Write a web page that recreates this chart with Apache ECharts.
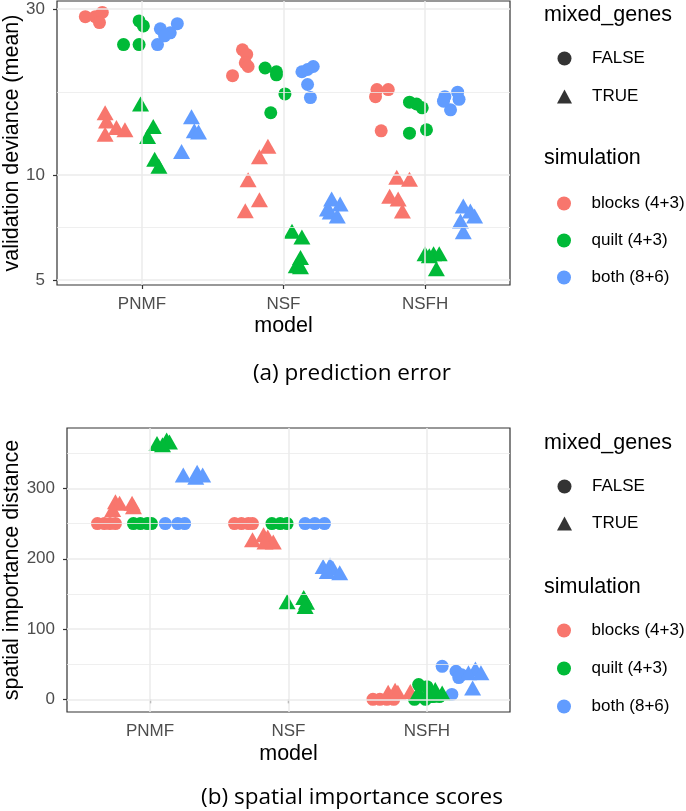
<!DOCTYPE html>
<html><head><meta charset="utf-8">
<script src="https://cdn.jsdelivr.net/npm/echarts@6/dist/echarts.min.js"></script>
<style>html,body{margin:0;padding:0;background:#fff}#c{width:686px;height:811px}</style>
</head><body><div id="c"></div><script>
const models = ['PNMF', 'NSF', 'NSFH'];
const simulations = ['blocks (4+3)', 'quilt (4+3)', 'both (8+6)'];
const simColors = ['#F8766D', '#00BA38', '#619CFF'];
const mixedLevels = ['FALSE', 'TRUE'];

const devTicks = [5, 10, 30];
const devMinor = [7.07, 17.32];
const spTicks = [0, 100, 200, 300];
const spMinor = [50, 150, 250, 350];

// (a) validation deviance: [model, jitter offset, value]
const devBlocksFalse = [['PNMF',-0.40,28.5],['PNMF',-0.33,28.5],['PNMF',-0.28,29.3],['PNMF',-0.30,27.4],
  ['NSF',-0.29,22.9],['NSF',-0.26,22.2],['NSF',-0.27,21.0],['NSF',-0.25,20.5],['NSF',-0.36,19.3],
  ['NSFH',-0.34,17.6],['NSFH',-0.26,17.6],['NSFH',-0.35,16.8],['NSFH',-0.31,13.4]];
const devQuiltFalse = [['PNMF',-0.02,27.7],['PNMF',0.01,26.8],['PNMF',-0.13,23.7],['PNMF',-0.02,23.7],
  ['NSF',-0.13,20.3],['NSF',-0.05,19.8],['NSF',-0.05,19.4],['NSF',0.01,17.1],['NSF',-0.09,15.1],
  ['NSFH',-0.11,16.2],['NSFH',-0.06,16.0],['NSFH',-0.02,15.6],['NSFH',-0.11,13.2],['NSFH',0.01,13.5]];
const devBothFalse = [['PNMF',0.13,26.3],['PNMF',0.25,27.2],['PNMF',0.20,25.6],['PNMF',0.11,23.7],['PNMF',0.16,25.1],
  ['NSF',0.13,19.8],['NSF',0.21,20.5],['NSF',0.17,18.2],['NSF',0.19,16.7],['NSF',0.17,20.1],
  ['NSFH',0.14,16.8],['NSFH',0.23,17.3],['NSFH',0.24,16.5],['NSFH',0.18,15.4],['NSFH',0.13,16.3]];
const devBlocksTrue = [['PNMF',-0.26,15.1],['PNMF',-0.25,14.3],['PNMF',-0.18,13.7],['PNMF',-0.12,13.5],['PNMF',-0.26,13.1],
  ['NSF',-0.11,12.1],['NSF',-0.17,11.3],['NSF',-0.25,9.7],['NSF',-0.17,8.5],['NSF',-0.27,7.9],
  ['NSFH',-0.20,9.87],['NSFH',-0.11,9.74],['NSFH',-0.25,8.7],['NSFH',-0.19,8.54],['NSFH',-0.16,7.89]];
const devQuiltTrue = [['PNMF',-0.01,16.0],['PNMF',0.08,13.8],['PNMF',0.04,12.9],['PNMF',0.09,11.1],['PNMF',0.12,10.6],
  ['NSF',0.06,6.9],['NSF',0.13,6.65],['NSF',0.12,5.8],['NSF',0.09,5.5],['NSF',0.12,5.46],
  ['NSFH',0.00,5.95],['NSFH',0.06,5.95],['NSFH',0.10,5.95],['NSFH',0.08,5.39],['NSFH',0.03,5.87]];
const devBothTrue = [['PNMF',0.35,14.7],['PNMF',0.37,13.4],['PNMF',0.40,13.3],['PNMF',0.28,11.7],
  ['NSF',0.34,8.54],['NSF',0.40,8.26],['NSF',0.33,7.84],['NSF',0.38,7.64],['NSF',0.31,8.0],
  ['NSFH',0.27,8.16],['NSFH',0.35,7.64],['NSFH',0.27,6.88],['NSFH',0.25,7.39],['NSFH',0.32,7.89]];

// (b) spatial importance distance: [model, jitter offset, value]
const spBlocksFalse = [['PNMF',-0.38,250],['PNMF',-0.33,250],['PNMF',-0.29,250],['PNMF',-0.25,250],
  ['NSF',-0.39,250],['NSF',-0.34,250],['NSF',-0.29,250],['NSF',-0.26,250],
  ['NSFH',-0.39,0],['NSFH',-0.34,0],['NSFH',-0.29,0],['NSFH',-0.24,0]];
const spQuiltFalse = [['PNMF',-0.12,250],['PNMF',-0.07,250],['PNMF',-0.02,250],['PNMF',0.01,250],
  ['NSF',-0.12,250],['NSF',-0.06,250],['NSF',-0.01,250],
  ['NSFH',-0.06,21],['NSFH',0.00,18],['NSFH',0.02,10],['NSFH',-0.01,0],['NSFH',-0.09,0],['NSFH',0.04,4],['NSFH',0.09,4]];
const spBothFalse = [['PNMF',0.11,250],['PNMF',0.20,250],['PNMF',0.25,250],
  ['NSF',0.12,250],['NSF',0.19,250],['NSF',0.26,250],
  ['NSFH',0.11,47],['NSFH',0.21,40],['NSFH',0.23,31],['NSFH',0.18,7],['NSFH',0.25,35]];
const spBlocksTrue = [['PNMF',-0.25,281],['PNMF',-0.22,279],['PNMF',-0.13,279],['PNMF',-0.27,270],['PNMF',-0.12,274],
  ['NSF',-0.26,227],['NSF',-0.18,234],['NSF',-0.15,231],['NSF',-0.11,224],['NSF',-0.17,224],
  ['NSFH',-0.28,10],['NSFH',-0.23,13],['NSFH',-0.21,10],['NSFH',-0.12,11]];
const spQuiltTrue = [['PNMF',0.05,364],['PNMF',0.12,369],['PNMF',0.14,366],['PNMF',0.09,362],
  ['NSF',-0.01,139],['NSF',0.11,145],['NSF',0.13,138],['NSF',0.12,132],
  ['NSFH',-0.06,11],['NSFH',0.06,14],['NSFH',0.11,9],['NSFH',0.01,6]];
const spBothTrue = [['PNMF',0.24,319],['PNMF',0.34,323],['PNMF',0.38,319],['PNMF',0.33,316],
  ['NSF',0.25,189],['NSF',0.30,191],['NSF',0.32,187],['NSF',0.37,180],['NSF',0.28,182],
  ['NSFH',0.35,43],['NSFH',0.30,38],['NSFH',0.39,38],['NSFH',0.33,16]];

const panels = [
  [[devBlocksFalse, devQuiltFalse, devBothFalse], [devBlocksTrue, devQuiltTrue, devBothTrue]],
  [[spBlocksFalse, spQuiltFalse, spBothFalse], [spBlocksTrue, spQuiltTrue, spBothTrue]]
];

const FONT = '"Liberation Sans", Arimo, Arial, Helvetica, sans-serif';
const CAPFONT = '"Open Sans", "Noto Sans", sans-serif';
const GRID_COLOR = '#EBEBEB';

function toPoints(arr) {
  return arr.map(p => [models.indexOf(p[0]) + 1 + p[1], p[2]]);
}

const series = [];
// gridlines
[[devTicks, devMinor], [spTicks, spMinor]].forEach((t, p) => {
  const lines = [];
  t[1].forEach(v => lines.push({ yAxis: v, lineStyle: { width: 0.8 } }));
  t[0].forEach(v => lines.push({ yAxis: v, lineStyle: { width: 1.5 } }));
  [1, 2, 3].forEach(v => lines.push({ xAxis: v, lineStyle: { width: 1.5 } }));
  series.push({
    type: 'scatter', xAxisIndex: p, yAxisIndex: p, data: [], z: 1, silent: true,
    markLine: { silent: true, symbol: ['none', 'none'], label: { show: false },
      animation: false,
      lineStyle: { color: GRID_COLOR, type: 'solid' }, data: lines }
  });
});
panels.forEach((panel, p) => {
  panel.forEach((row, m) => {
    row.forEach((arr, s) => {
      series.push({
        type: 'scatter', name: simulations[s], xAxisIndex: p, yAxisIndex: p,
        symbol: m ? 'triangle' : 'circle', symbolSize: m ? [17, 15] : 13,
        itemStyle: { color: simColors[s], opacity: 1 }, silent: true, z: 3,
        data: toPoints(arr)
      });
    });
  });
});
mixedLevels.forEach((lv, i) => {
  series.push({ type: 'scatter', name: lv, xAxisIndex: 0, yAxisIndex: 0, data: [],
    symbol: i ? 'triangle' : 'circle', itemStyle: { color: '#000' } });
});

function xAxisCfg(g) {
  return {
    gridIndex: g, type: 'value', min: 0.4, max: 3.6,
    axisLine: { show: false }, splitLine: { show: false },
    axisTick: { show: true, customValues: [1, 2, 3], length: 4, lineStyle: { color: '#333', width: 1.2 } },
    axisLabel: { customValues: [1, 2, 3], formatter: v => models[Math.round(v) - 1],
      color: '#4D4D4D', fontSize: 17, fontFamily: FONT, margin: 11 }
  };
}

const labelStyle = { color: '#000', fontSize: 17, fontFamily: FONT, padding: [0, 0, 0, 15] };
function legendCfg(top, gap, items) {
  return { orient: 'vertical', left: 552, top: top, itemWidth: 15, itemHeight: 14, itemGap: gap,
    selectedMode: false, textStyle: labelStyle, data: items };
}
const mixedItems = [{ name: 'FALSE', icon: 'circle' }, { name: 'TRUE', icon: 'triangle' }];
const simItems = simulations.map(s => ({ name: s, icon: 'circle' }));

function txt(text, x, y, font, align, rot) {
  const el = { type: 'text', x: x, y: y, silent: true,
    style: { text: text, font: font, fill: '#000', align: align || 'left', verticalAlign: 'middle' } };
  if (rot) el.rotation = rot;
  return el;
}
const TITLE = '21.5px ' + FONT;
const CAP = '22.5px ' + CAPFONT;

const option = {
  animation: false,
  backgroundColor: '#fff',
  grid: [
    { left: 57, top: 1, width: 453, height: 284, show: true, borderColor: '#333', borderWidth: 1.2, backgroundColor: '#fff' },
    { left: 67, top: 428, width: 443, height: 284, show: true, borderColor: '#333', borderWidth: 1.2, backgroundColor: '#fff' }
  ],
  xAxis: [xAxisCfg(0), xAxisCfg(1)],
  yAxis: [
    { gridIndex: 0, type: 'log', logBase: 10, min: 4.84, max: 31.6,
      axisLine: { show: false }, splitLine: { show: false }, minorSplitLine: { show: false },
      axisTick: { show: true, customValues: devTicks, length: 4, lineStyle: { color: '#333', width: 1.2 } },
      axisLabel: { customValues: devTicks, formatter: v => String(Math.round(v)), color: '#4D4D4D', fontSize: 17, fontFamily: FONT, margin: 12 } },
    { gridIndex: 1, type: 'value', min: -18, max: 386,
      axisLine: { show: false }, splitLine: { show: false },
      axisTick: { show: true, customValues: spTicks, length: 4, lineStyle: { color: '#333', width: 1.2 } },
      axisLabel: { customValues: spTicks, formatter: v => String(Math.round(v)), color: '#4D4D4D', fontSize: 17, fontFamily: FONT, margin: 12 } }
  ],
  legend: [
    legendCfg(45, 21, mixedItems),
    legendCfg(190, 20, simItems),
    legendCfg(473, 20, mixedItems),
    legendCfg(617, 21, simItems)
  ],
  graphic: [
    txt('mixed_genes', 544, 15, TITLE),
    txt('simulation', 544, 158, TITLE),
    txt('mixed_genes', 544, 443, TITLE),
    txt('simulation', 544, 587, TITLE),
    txt('model', 283.5, 326, TITLE, 'center'),
    txt('model', 288.5, 754, TITLE, 'center'),
    txt('validation deviance (mean)', 12, 143, TITLE, 'center', Math.PI / 2),
    txt('spatial importance distance', 12, 570, TITLE, 'center', Math.PI / 2),
    txt('(a) prediction error', 352, 374, CAP, 'center'),
    txt('(b) spatial importance scores', 352, 798, CAP, 'center')
  ],
  series: series
};

const chart = echarts.init(document.getElementById('c'), null, { renderer: 'canvas' });
chart.setOption(option);
</script></body></html>
